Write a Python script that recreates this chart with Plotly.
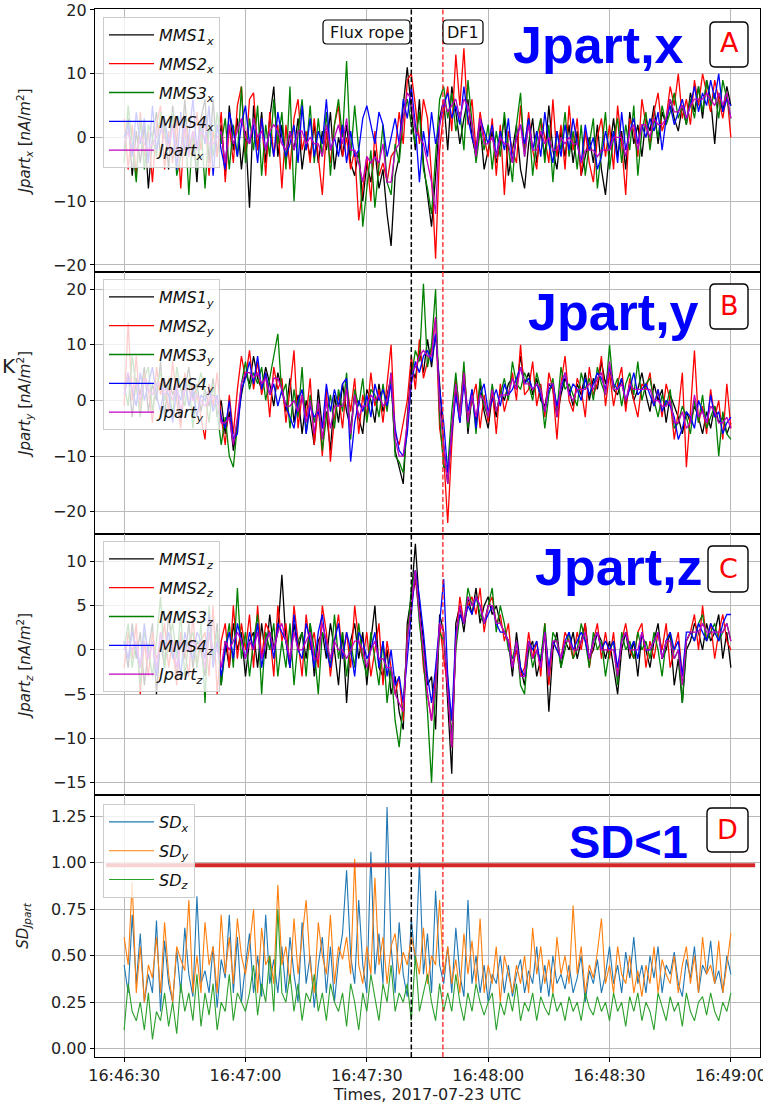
import pandas as pd
import plotly.graph_objects as go

# ---------------- data (1 sample per second) ----------------
START = "2017-07-23 16:46:30"
N_SAMPLES = 151
times = pd.date_range(START, periods=N_SAMPLES, freq="1s")

mms1_x = [-2,3,-6,1,-4,2,-8,0,4,-3, 2,-5,5,-1,-3,6,-2,1,-7,3, 6,-4,6,-3,2,-6,5,-2,3,-5,
          1,-11,5,-2,4,-4,3,8,-3,2, -4,1,-2,3,-5,0,-3,2,-4,1, -2,4,-5,0,-3,2,-4,-6,-2,-10,
          -4,-7,-2,-8,-5,-12,-17,-6,-3,5, 11,4,-2,6,-4,-9,-14,-6,3,6, -2,8,4,-1,3,6,0,-3,2,-5,
          -2,1,-4,-1,3,-6,-2,2,-5,-8, -1,3,-4,1,-3,5,-2,-5,1,-3, 2,-4,1,-6,-3,0,-4,2,-5,-9,
          -2,3,-3,1,-5,4,-1,2,-3,3, 1,5,-1,4,2,6,3,1,5,2, 7,4,8,3,9,6,-1,7,4,8, 5]
mms2_x = [3,-5,2,-6,4,-3,1,-7,2,5, -5,1,-4,3,-8,2,0,-3,4,-2, 3,-6,1,-3,4,-7,2,-4,5,8,
          -3,6,7,-2,3,-6,4,-3,2,-8, 2,-5,3,6,-2,1,-4,3,-3,-9, 1,-4,2,5,-3,0,-5,-2,-13,-8,
          -3,-10,1,-6,-4,-7,-3,-2,4,-1, 9,10,5,-1,6,3,-6,-19,-2,4, 8,1,13,5,14,2,6,-2,4,0,
          -3,3,-6,2,-9,1,-2,-4,5,-2, 4,-2,-5,3,0,-4,6,-3,2,-5, 5,-2,3,-6,1,-4,-7,0,3,-3,
          2,-5,5,-1,-9,3,1,-3,6,2, -1,4,7,1,3,8,5,10,3,6, 2,9,5,10,7,4,9,6,3,7, 0]
mms3_x = [-4,5,-1,-7,3,-5,2,0,-3,4, 1,-2,4,-6,-3,3,-9,1,-5,2, -8,2,-3,4,-1,3,-5,2,-3,8,
          -4,3,-2,5,-6,2,-3,6,-1,4, -5,8,-10,1,6,-2,5,-4,3,-3, 4,-6,2,6,0,12,-3,5,-2,-14,
          -8,-2,-11,-5,2,-7,-9,-1,-4,3, 6,2,-1,4,-5,-8,-12,-3,6,8, 3,7,1,4,-2,9,3,-4,1,-2,
          2,-5,1,-3,4,-2,-7,2,7,-3, 3,-6,0,3,-4,2,-7,1,-2,4, -3,1,-5,2,-6,-1,3,-8,-2,4,
          -5,0,3,-4,2,-2,5,-6,1,4, -2,3,0,5,2,4,7,3,5,2, 6,3,8,4,9,5,7,3,9,6, 3]
mms4_x = [0,2,-3,4,-1,3,-4,5,-2,1, 3,-1,2,-5,4,-2,0,6,-2,3, -1,5,-6,2,-2,-5,4,1,-3,2,
          5,-1,2,-4,3,-2,1,-3,4,0, -3,-1,2,-4,5,-2,3,-3,1,-1, 6,-2,0,-3,2,-4,1,-3,-2,3,
          5,2,-1,4,2,-3,0,3,-1,6, 3,8,2,-7,1,-3,4,-1,2,5, 7,3,5,2,8,3,0,-2,3,1,
          -1,2,-3,1,-2,3,-4,0,2,-1, 3,-2,1,-3,4,-1,-4,1,-3,2, -2,3,-1,-4,2,-2,0,-5,-3,1,
          -2,1,-4,4,-2,1,3,-1,2,0, 3,1,4,-2,3,5,2,4,6,3, 5,8,4,7,5,9,6,10,4,6, 5]
jpart_x = [-1,1,-2,-2,0,-1,-2,-1,0,2, 0,-2,2,-2,-2,2,-3,1,-2,1, 0,-1,-1,0,1,-4,2,-1,1,3,
           0,-1,3,0,1,-2,1,2,1,-1, -2,1,-2,1,1,-1,0,-1,-1,-3, 2,-2,0,2,-1,3,-2,-2,-4,-7,
           -3,-4,-3,-4,-1,-7,-7,-2,-1,3, 7,6,1,0,-1,-4,-7,-12,2,6, 4,5,6,3,6,5,2,-3,3,-1,
           -1,0,-3,0,-1,-1,-4,0,2,-3, 2,-2,-2,1,-1,0,-2,-2,0,-1, 0,-1,-1,-4,-2,-2,-2,-3,-2,-2,
           -2,0,0,0,-3,1,2,-2,2,2, 0,3,2,2,3,6,4,4,5,3, 5,6,6,6,7,6,5,7,5,7, 3]

mms1_y = [2,5,-3,4,1,6,-2,3,0,7, -3,4,1,3,-4,2,6,0,3,-2, 2,-1,4,-3,0,-6,-2,-9,-4,1,
          5,3,8,4,2,6,3,-1,5,2, -2,4,-4,1,-6,0,-3,-8,2,-5, -2,-9,1,-4,3,-2,-5,1,-3,-6,
          2,0,-4,3,-2,1,4,-9,-12,-15, -3,6,4,9,5,11,6,12,3,-8, -15,-5,2,-4,5,-6,1,-4,3,-2,
          -5,1,-3,2,0,3,4,2,8,3, 5,1,4,0,-1,3,2,-3,1,4, 2,-1,3,1,5,0,4,2,7,3,
          6,2,1,4,-1,3,0,2,5,1, -2,3,0,2,-4,1,-1,-3,-6,-2, -4,-1,-3,-6,-2,-5,-1,-4,-3,-6, -4]
mms2_y = [-1,14,0,8,-2,5,2,-4,6,1, 4,-2,7,0,-5,5,-1,3,1,-3, -7,3,-1,5,-3,-8,1,-6,2,8,
          4,9,2,7,1,5,-3,6,2,4, -4,2,9,-5,1,-3,4,-8,-1,-10, 2,-11,-3,1,-5,3,-2,4,-6,1,
          -3,5,-1,2,-4,3,10,-6,-8,-4, 0,8,2,11,4,7,9,15,-5,-10, -22,-8,4,-2,6,-3,0,3,-5,1,
          -4,2,-6,3,-2,1,5,0,10,1, 2,7,-1,3,-3,5,2,-7,3,8, 0,-2,4,2,-3,6,1,3,8,-1,
          5,-1,3,6,-2,4,0,-3,3,2, 5,-1,2,-3,3,0,-7,-2,5,-12, -2,9,-4,-1,-6,2,-3,0,-7,3, -5]
mms3_y = [3,-1,8,2,-3,4,6,-2,3,5, 0,3,-3,6,2,-1,4,-5,2,5, 1,-4,3,-2,-8,-3,-10,-12,-5,3,
          7,2,5,3,6,0,4,8,12,1, 3,-5,2,-3,6,-6,1,-4,0,-9, -3,1,-5,2,-2,5,-7,2,-1,4,
          -4,2,1,-3,3,-2,5,-10,-11,-13, -5,4,9,7,21,6,10,20,-3,-12, -12,-2,5,-3,7,-5,2,-6,4,-1,
          -3,3,-2,1,4,0,7,3,2,5, 3,0,5,2,-5,1,4,-2,6,2, 3,1,-1,5,2,4,0,6,3,1,
          10,2,4,-1,3,5,1,7,0,3, 4,0,-3,1,-1,2,-5,-4,-1,-3, -6,0,-4,1,-5,-3,-1,-10,-2,-6, -7]
mms4_y = [1,4,2,-1,5,0,3,6,1,-2, 3,1,-4,2,0,4,-1,2,-3,1, 0,2,-2,1,-3,-5,0,-7,-6,2,
          4,7,3,8,2,5,1,3,-1,2, -1,-3,-5,0,2,-6,-1,-3,-2,-5, 3,-2,2,-1,3,4,-11,-4,0,-2,
          1,-3,3,0,2,-1,3,-5,-9,-10, -6,3,7,5,8,9,7,12,2,-4, -13,-6,1,-4,3,-2,2,-5,1,3,
          -2,0,2,-1,3,1,2,4,6,3, 4,2,3,1,-2,2,3,-1,2,5, 1,3,2,0,4,1,3,5,4,2,
          6,3,2,4,0,2,5,1,2,3, 1,-1,2,-2,0,-1,-3,-7,-5,-2, -3,-5,0,-2,-4,1,-3,-2,-6,-4, -3]
jpart_y = [1,5,2,3,0,4,2,1,3,3, 1,2,0,3,-2,2,2,0,1,0, -1,0,1,0,-4,-4,-3,-8,-3,3,
           5,5,4,5,3,4,1,4,4,2, -1,-1,0,-2,1,-4,0,-6,0,-7, 0,-5,-1,-1,-1,2,-6,1,-3,-1,
           -1,1,0,1,-1,0,5,-7,-10,-10, -4,5,6,8,9,8,8,15,-1,-8, -15,-5,3,-3,5,-4,1,-3,1,0,
           -3,2,-2,1,1,1,4,2,6,3, 3,2,3,2,-2,3,3,-3,3,5, 1,0,2,2,2,3,2,4,5,1,
           7,2,2,3,0,3,2,2,2,2, 2,0,0,-1,-1,0,-4,-4,-2,-5, -4,1,-3,-2,-4,-1,-2,-4,-4,-3, -5]

mms1_z = [1,-2,3,-1,2,-4,0,3,-5,1, -2,4,0,-3,2,-1,3,-2,1,0, -3,2,-1,3,-4,1,-2,3,0,2,
          -3,1,2,-2,3,-1,4,0,2,8.5, 1,-2,3,0,2,-1,3,-3,1,2, -1,3,0,-4,2,-6,1,3,-1,2,
          -4,1,5,-2,-3,0,-5,-3,-7,-9, 3,6,12,5,1,-4,-3,-9,4,2, -6,-14,3,5,2,6,4,7,3,5,
          6,4,5,3,2,1,-3,2,-2,-4, 0,1,-3,-1,2,-7,0,2,-2,1, 0,2,-1,1,3,-1,0,2,1,-1,
          1,-2,-5,0,2,-1,1,-3,2,0, -2,1,3,-1,0,2,-4,-1,-6,0, 1,3,2,0,3,1,2,4,-1,2, -2]
mms2_z = [-2,2,-1,3,-5,1,-3,2,-1,0, 3,-2,1,-4,2,0,-3,4,-2,1, 2,-3,5,-5,1,3,-2,5,-1,3,
          0,4,-2,5,-1,3,2,-3,5,1, 3,-2,5,1,-3,4,0,2,-2,5, 2,-3,1,4,-1,2,-2,5,1,-1,
          2,-3,0,3,-4,1,-2,-5,-3,-8, 2,5,8,4,-2,-5,-8,-3,3,-1, -4,-11,1,6,3,5,6,4,7,2,
          5,6,3,4,1,3,-2,0,-3,-2, 2,-1,1,-3,3,-4,1,0,-1,2, 1,-1,2,0,3,-2,1,3,-1,2,
          -1,2,-3,1,3,0,-1,2,3,-2, 1,-1,2,0,3,-2,0,2,-3,1, 2,4,0,5,1,3,-1,2,4,1, 0]
mms3_z = [0,3,-2,1,-4,2,0,-3,1,6, -2,1,3,-1,4,-3,1,2,-2,3, -6,5,-1,2,-4,0,3,-2,7,-1,
          2,-3,1,4,-5,2,0,3,-3,1, -2,3,-4,1,2,-3,3,0,-5,2, 1,-2,4,-1,2,-3,1,-2,3,-1,
          -3,2,-1,-4,1,-6,-2,-8,-11,-6, 1,7,9,3,-1,-7,-15,-4,2,1, -3,-10,0,4,3,7,5,6,4,3,
          5,7,2,5,3,0,-1,1,-4,-5, 1,-2,0,-1,3,-3,2,1,-2,0, 2,-1,0,3,1,-2,2,0,1,-3,
          0,1,-4,2,0,1,-1,2,0,1, -1,2,0,-3,1,2,-1,0,-6,1, 2,1,3,4,1,2,3,1,2,3, 1]
mms4_z = [1,-1,2,0,-2,3,-1,1,-3,2, 0,2,-1,1,-3,2,0,-1,2,1, -1,4,-2,1,-3,0,2,-1,3,1,
          -1,2,0,3,-2,1,2,-1,3,2, 1,-2,4,0,-1,3,1,-2,2,4, 0,-2,1,3,-1,2,0,-3,2,1,
          -1,0,2,-2,1,-3,0,-4,-3,-6, -1,4,9,6,2,-3,-6,-2,3,8, -3,-8,2,4,3,5,4,6,5,3,
          4,5,3,2,2,1,-2,1,-2,-3, 1,0,1,-2,2,-2,1,0,-1,1, 2,0,1,2,1,-1,1,2,0,1,
          0,1,-2,1,2,0,1,-1,2,0, 0,1,2,-1,1,2,0,1,-3,2, 2,1,3,2,1,3,2,1,3,4, 4]
jpart_z = [0,1,0,1,-2,1,-1,1,-2,2, 0,1,1,-2,1,0,0,1,0,1, -2,2,0,0,-2,1,0,1,2,1,
           -1,1,0,2,-1,1,2,0,2,3, 1,-1,2,0,0,1,2,-1,-1,3, 1,-1,1,0,0,-1,0,1,1,0,
           -2,0,1,-1,-1,-2,-2,-5,-6,-7, 1,5,9,4,0,-5,-8,-4,3,2, -4,-11,1,5,3,6,5,6,5,3,
           5,5,3,3,2,1,-2,1,-3,-3, 1,-1,0,-2,2,-3,1,1,-1,1, 1,0,0,1,2,-1,1,2,0,0,
           0,0,-3,1,2,0,0,0,2,0, 0,1,2,-1,1,1,-1,0,-4,1, 2,2,2,3,2,2,2,2,2,3, 1]

sd_x = [0.45,0.3,0.72,0.35,0.62,0.25,0.4,0.3,0.69,0.2, 0.58,0.35,0.25,0.53,0.3,0.65,0.4,0.28,0.82,0.35,
        0.42,0.3,0.55,0.22,0.48,0.38,0.72,0.3,0.6,0.25, 0.45,0.62,0.3,0.5,0.28,0.72,0.35,0.48,0.3,0.55,
        0.3,0.6,0.4,0.25,0.68,0.35,0.5,0.22,0.45,0.6, 0.3,0.55,0.25,0.48,0.62,0.96,0.5,0.35,0.8,0.45,
        0.3,1.06,0.4,0.62,0.35,1.3,0.55,0.3,0.68,0.4, 0.28,0.7,0.45,1.0,0.4,0.62,0.3,0.85,0.45,0.35,
        0.55,0.3,0.65,0.4,0.28,0.8,0.35,0.5,0.3,0.45, 0.25,0.4,0.35,0.5,0.3,0.45,0.28,0.4,0.48,0.3,
        0.42,0.35,0.55,0.3,0.45,0.28,0.5,0.35,0.4,0.32, 0.45,0.3,0.38,0.5,0.25,0.42,0.35,0.48,0.3,0.4,
        0.55,0.35,0.45,0.3,0.52,0.38,0.6,0.35,0.45,0.3, 0.5,0.38,0.55,0.3,0.45,0.4,0.52,0.35,0.28,0.48,
        0.38,0.55,0.3,0.45,0.4,0.58,0.35,0.42,0.3,0.5, 0.4]
sd_y = [0.6,0.45,0.9,0.3,0.55,0.25,0.45,0.38,0.6,0.3, 0.68,0.4,0.25,0.55,0.48,0.42,0.8,0.3,0.5,0.3,
        0.68,0.45,0.55,0.3,0.72,0.4,0.6,0.35,0.7,0.5, 0.4,0.55,0.75,0.3,0.65,0.45,0.5,0.35,0.88,0.45,
        0.55,0.35,0.7,0.4,0.6,0.8,0.45,0.3,0.68,0.5, 0.4,0.72,0.35,0.55,0.48,0.6,0.4,1.02,0.45,0.35,
        0.55,0.4,0.92,0.45,0.6,0.35,0.55,0.62,0.4,0.52, 0.45,0.6,0.5,0.4,0.65,0.35,0.5,0.45,0.8,0.4,
        0.55,0.35,0.48,0.3,0.62,0.4,0.58,0.35,0.7,0.3, 0.45,0.35,0.55,0.25,0.5,0.4,0.3,0.45,0.35,0.5,
        0.3,0.65,0.4,0.55,0.35,0.48,0.3,0.6,0.4,0.5, 0.35,0.77,0.4,0.55,0.3,0.45,0.38,0.52,0.7,0.35,
        0.45,0.3,0.55,0.4,0.35,0.5,0.3,0.42,0.28,0.45, 0.35,0.55,0.3,0.48,0.4,0.35,0.5,0.3,0.45,0.55,
        0.35,0.5,0.3,0.6,0.4,0.45,0.35,0.58,0.3,0.45, 0.62]
sd_z = [0.1,0.35,0.2,0.15,0.25,0.1,0.3,0.05,0.2,0.15, 0.3,0.12,0.25,0.08,0.35,0.2,0.3,0.15,0.4,0.12,
        0.3,0.18,0.35,0.1,0.25,0.2,0.4,0.15,0.3,0.25, 0.2,0.3,0.45,0.18,0.35,0.25,0.5,0.2,0.75,0.3,
        0.25,0.4,0.2,0.35,0.15,0.3,0.25,0.4,0.2,0.3, 0.15,0.35,0.25,0.2,0.3,0.12,0.35,0.25,0.1,0.3,
        0.2,0.4,0.28,0.15,0.35,0.25,0.45,0.2,0.3,0.25, 0.35,0.15,0.5,0.2,0.3,0.4,0.25,0.15,0.35,0.2,
        0.3,0.2,0.4,0.25,0.15,0.3,0.2,0.35,0.25,0.18, 0.25,0.3,0.1,0.25,0.18,0.3,0.2,0.35,0.15,0.25,
        0.2,0.3,0.15,0.28,0.22,0.18,0.3,0.2,0.25,0.15, 0.28,0.2,0.25,0.15,0.3,0.22,0.18,0.28,0.2,0.25,
        0.15,0.3,0.2,0.25,0.12,0.28,0.2,0.3,0.15,0.25, 0.2,0.1,0.3,0.22,0.15,0.28,0.2,0.25,0.12,0.3,
        0.2,0.15,0.25,0.28,0.18,0.3,0.2,0.15,0.25,0.2, 0.3]

SD_THRESHOLD = 0.987
FLUX_ROPE_TIME = "2017-07-23 16:47:41.0"
DF1_TIME = "2017-07-23 16:47:48.8"
X_TICKS = ["2017-07-23 16:46:30", "2017-07-23 16:47:00", "2017-07-23 16:47:30",
           "2017-07-23 16:48:00", "2017-07-23 16:48:30", "2017-07-23 16:49:00"]
X_RANGE = ["2017-07-23 16:46:22.8", "2017-07-23 16:49:07.2"]

# ---------------- figure ----------------
W, H = 763, 1108
def px(x):
    return x / W
def py(y):
    return 1 - y / H

FONT = "DejaVu Sans"
GRID = "#b9b9b9"
MMS_COLORS = ["black", "#ff0000", "#008000", "#0000ff", "#bf00bf"]

fig = go.Figure()

panels = [
    ("x", [mms1_x, mms2_x, mms3_x, mms4_x, jpart_x], "legend"),
    ("y", [mms1_y, mms2_y, mms3_y, mms4_y, jpart_y], "legend2"),
    ("z", [mms1_z, mms2_z, mms3_z, mms4_z, jpart_z], "legend3"),
]
for i, (comp, series, leg) in enumerate(panels):
    names = [f"<i>MMS{k}<sub>{comp}</sub></i>" for k in range(1, 5)] + [f"<i>Jpart<sub>{comp}</sub></i>"]
    ax = "" if i == 0 else str(i + 1)
    for j, (vals, nm, col) in enumerate(zip(series, names, MMS_COLORS)):
        fig.add_trace(go.Scatter(x=times, y=vals, mode="lines", name=nm,
                                 line=dict(color=col, width=1.3),
                                 xaxis="x" + ax, yaxis="y" + ax,
                                 legend=leg, legendgroup=f"{comp}{j}"))

for j, (vals, nm, col) in enumerate(zip([sd_x, sd_y, sd_z],
                                        ["<i>SD<sub>x</sub></i>", "<i>SD<sub>y</sub></i>", "<i>SD<sub>z</sub></i>"],
                                        ["#1f77b4", "#ff7f0e", "#2ca02c"])):
    fig.add_trace(go.Scatter(x=times, y=vals, mode="lines", name=nm,
                             line=dict(color=col, width=1.1),
                             xaxis="x4", yaxis="y4", legend="legend4", legendgroup=f"sd{j}"))

# axes
bounds = [9, 272, 534, 795, 1057]
yranges = [[-21.1, 20.15], [-24.0, 23.1], [-16.4, 13.1], [-0.045, 1.365]]
yticks = [[-20, -10, 0, 10, 20], [-20, -10, 0, 10, 20], [-15, -10, -5, 0, 5, 10],
          [0, 0.25, 0.5, 0.75, 1.0, 1.25]]
ytitles = ["<i>Jpart<sub>x</sub></i> [<i>nA</i>/<i>m</i><sup>2</sup>]",
           "<i>Jpart<sub>y</sub></i> [<i>nA</i>/<i>m</i><sup>2</sup>]",
           "<i>Jpart<sub>z</sub></i> [<i>nA</i>/<i>m</i><sup>2</sup>]",
           "<i>SD<sub>Jpart</sub></i>"]
layout_axes = {}
for i in range(4):
    ax = "" if i == 0 else str(i + 1)
    last = i == 3
    layout_axes["xaxis" + ax] = dict(
        domain=[px(95), px(760)], range=X_RANGE, type="date", anchor="y" + ax,
        automargin=False, ticklabeloverflow="allow",
        tickvals=X_TICKS, tickformat="%H:%M:%S", showticklabels=last,
        showgrid=True, gridcolor=GRID, gridwidth=1.2, zeroline=False,
        showline=True, mirror=True, linecolor="black", linewidth=1.3,
        ticks="outside", ticklen=4, tickcolor="black",
        tickfont=dict(family=FONT, size=16, color="#222"),
        title=dict(text="Times, 2017-07-23 UTC" if last else "", standoff=4,
                   font=dict(family=FONT, size=16, color="#222")),
    )
    layout_axes["yaxis" + ax] = dict(
        domain=[py(bounds[i + 1]), py(bounds[i])], range=yranges[i], anchor="x" + ax,
        automargin=False, ticklabeloverflow="allow",
        tickvals=yticks[i], tickformat=".2f" if last else None,
        showgrid=True, gridcolor=GRID, gridwidth=1.2, zeroline=False,
        showline=True, mirror=True, linecolor="black", linewidth=1.3,
        ticks="outside", ticklen=4, tickcolor="black",
        tickfont=dict(family=FONT, size=16, color="#222"),
        title=dict(text=ytitles[i], standoff=18, font=dict(family=FONT, size=15, color="#222")),
    )

def legend_at(top):
    return dict(x=px(103), y=py(top), xanchor="left", yanchor="top",
                bgcolor="rgba(255,255,255,0.8)", bordercolor="#cccccc", borderwidth=1,
                font=dict(family=FONT, size=16, color="#111"), tracegroupgap=5,
                traceorder="grouped", itemwidth=45)

shapes = []
# vertical event lines
shapes.append(dict(type="line", xref="x4", yref="paper", x0=FLUX_ROPE_TIME, x1=FLUX_ROPE_TIME,
                   y0=py(1057), y1=py(9), line=dict(color="black", width=1.5, dash="5px,2.5px")))
shapes.append(dict(type="line", xref="x4", yref="paper", x0=DF1_TIME, x1=DF1_TIME,
                   y0=py(1057), y1=py(9), line=dict(color="rgba(255,40,40,0.9)", width=1.5, dash="5px,2.5px")))
# SD threshold
shapes.append(dict(type="line", xref="x4", yref="y4", x0="2017-07-23 16:46:25.5",
                   x1="2017-07-23 16:49:06.0", y0=SD_THRESHOLD, y1=SD_THRESHOLD,
                   line=dict(color="#d62728", width=4)))

def rrect(x0, y0, x1, y1, r=5, lw=1.4):
    p = (f"M{px(x0+r)},{py(y0)} L{px(x1-r)},{py(y0)} Q{px(x1)},{py(y0)} {px(x1)},{py(y0+r)} "
         f"L{px(x1)},{py(y1-r)} Q{px(x1)},{py(y1)} {px(x1-r)},{py(y1)} "
         f"L{px(x0+r)},{py(y1)} Q{px(x0)},{py(y1)} {px(x0)},{py(y1-r)} "
         f"L{px(x0)},{py(y0+r)} Q{px(x0)},{py(y0)} {px(x0+r)},{py(y0)} Z")
    return dict(type="path", xref="paper", yref="paper", path=p, fillcolor="white",
                line=dict(color="black", width=lw), layer="above")

boxes = [(710, 22, 748, 67), (710, 284, 748, 329), (708, 546, 748, 592), (707, 808, 748, 852)]
for b in boxes:
    shapes.append(rrect(*b, r=5))
shapes.append(rrect(323, 20, 410, 44, r=4, lw=1.2))
shapes.append(rrect(443, 20, 483, 44, r=4, lw=1.2))

annotations = []
big = [("Jpart,x", 598.5, 45, 52), ("Jpart,y", 613.5, 312, 52), ("Jpart,z", 619, 567, 52),
       ("SD&lt;1", 628.5, 841, 47)]
for txt, x, y, s in big:
    annotations.append(dict(text=f"<b>{txt}</b>", xref="paper", yref="paper", x=px(x), y=py(y),
                            xanchor="center", yanchor="middle", showarrow=False,
                            font=dict(family="Liberation Sans", size=s, color="#0000ff")))
letters = [("A", 729, 43), ("B", 729, 306), ("C", 728, 568), ("D", 727.5, 829)]
for t, x, y in letters:
    annotations.append(dict(text=t, xref="paper", yref="paper", x=px(x), y=py(y),
                            xanchor="center", yanchor="middle", showarrow=False,
                            font=dict(family=FONT, size=27, color="#ff0000")))
for t, x in [("Flux rope", 366.5), ("DF1", 463)]:
    annotations.append(dict(text=t, xref="paper", yref="paper", x=px(x), y=py(32.5),
                            xanchor="center", yanchor="middle", showarrow=False,
                            font=dict(family=FONT, size=16, color="#111")))
annotations.append(dict(text="K", xref="paper", yref="paper", x=px(0), y=py(366),
                        xanchor="left", yanchor="middle", showarrow=False,
                        font=dict(family=FONT, size=20, color="#222")))

fig.update_layout(
    width=W, height=H, margin=dict(l=0, r=0, t=0, b=0),
    paper_bgcolor="white", plot_bgcolor="white", showlegend=True,
    legend=legend_at(17), legend2=legend_at(279), legend3=legend_at(541), legend4=legend_at(804),
    shapes=shapes, annotations=annotations, **layout_axes,
)

fig.write_html("out.html")
